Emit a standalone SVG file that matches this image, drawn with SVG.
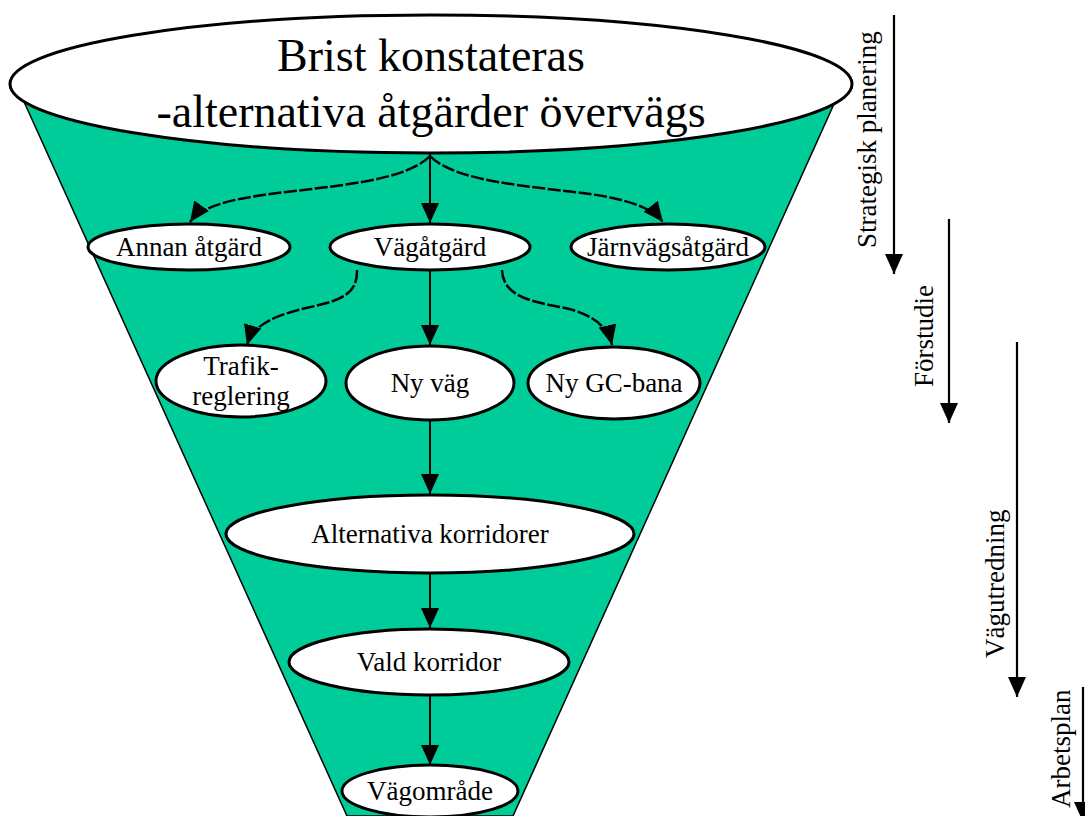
<svg xmlns="http://www.w3.org/2000/svg" width="1085" height="816" viewBox="0 0 1085 816">
  <style>
    .node { fill: #ffffff; stroke: #000000; stroke-width: 3; }
    .lbl { font-family: "Liberation Serif", "Times New Roman", serif; font-size: 27px; fill: #000000; text-anchor: middle; }
    .big { font-family: "Liberation Serif", "Times New Roman", serif; font-size: 46px; fill: #000000; text-anchor: middle; }
    .side { font-family: "Liberation Serif", "Times New Roman", serif; font-size: 27px; fill: #000000; }
    .edge { fill: none; stroke: #000000; stroke-width: 2; marker-end: url(#arrow); }
    .dash { stroke-width: 2.5; stroke-dasharray: 13 2.5; }
    .phase { fill: none; stroke: #000000; stroke-width: 2.2; marker-end: url(#arrow); }
  </style>
  <defs>
    <marker id="arrow" viewBox="0 0 20 18" refX="20" refY="9" markerWidth="20" markerHeight="18" markerUnits="userSpaceOnUse" orient="auto">
      <path d="M0,0 L20,9 L0,18 Z" fill="#000000"/>
    </marker>
  </defs>

  <rect width="1085" height="816" fill="#ffffff"/>

  <!-- funnel body -->
  <polygon id="funnel" points="16,84 843,84 513,816 347,816" fill="#00cc99" stroke="#000000" stroke-width="1.5"/>

  <!-- connectors -->
  <g id="connectors">
    <line class="edge" x1="430" y1="154" x2="430" y2="223"/>
    <path class="edge dash" d="M430,156 C405,182 330,186 270,194 C225,200 200,208 190,222"/>
    <path class="edge dash" d="M430,156 C455,182 530,186 590,194 C630,200 652,208 663,222"/>
    <line class="edge" x1="430" y1="270" x2="430" y2="345"/>
    <path class="edge dash" d="M357,270 C358,300 330,302 298,310 C268,318 252,328 247,345"/>
    <path class="edge dash" d="M502,270 C503,298 535,302 565,308 C595,315 608,328 612,345"/>
    <line class="edge" x1="430" y1="420" x2="430" y2="494"/>
    <line class="edge" x1="430" y1="573" x2="430" y2="628"/>
    <line class="edge" x1="430" y1="696" x2="430" y2="765"/>
  </g>

  <g id="brist">
    <ellipse class="node" cx="431" cy="84" rx="421" ry="69"/>
    <text class="big" x="431" y="71">Brist konstateras</text>
    <text class="big" x="431" y="127">-alternativa åtgärder övervägs</text>
  </g>

  <g id="annan">
    <ellipse class="node" cx="189" cy="247" rx="101" ry="23"/>
    <text class="lbl" x="189" y="256">Annan åtgärd</text>
  </g>
  <g id="vagatgard">
    <ellipse class="node" cx="430" cy="247" rx="100" ry="23"/>
    <text class="lbl" x="430" y="256">Vägåtgärd</text>
  </g>
  <g id="jarnvag">
    <ellipse class="node" cx="668" cy="247" rx="97" ry="23"/>
    <text class="lbl" x="668" y="256">Järnvägsåtgärd</text>
  </g>

  <g id="trafik">
    <ellipse class="node" cx="241" cy="381" rx="85" ry="36"/>
    <text class="lbl" x="241" y="375">Trafik-</text>
    <text class="lbl" x="241" y="405">reglering</text>
  </g>
  <g id="nyvag">
    <ellipse class="node" cx="430" cy="383" rx="84" ry="37"/>
    <text class="lbl" x="430" y="392">Ny väg</text>
  </g>
  <g id="gcbana">
    <ellipse class="node" cx="614" cy="383" rx="86" ry="36"/>
    <text class="lbl" x="614" y="392">Ny GC-bana</text>
  </g>

  <g id="korridorer">
    <ellipse class="node" cx="430" cy="534" rx="204" ry="39"/>
    <text class="lbl" x="430" y="543">Alternativa korridorer</text>
  </g>
  <g id="vald">
    <ellipse class="node" cx="429" cy="662" rx="140" ry="33"/>
    <text class="lbl" x="429" y="671">Vald korridor</text>
  </g>
  <g id="vagomrade">
    <ellipse class="node" cx="430" cy="791" rx="88" ry="26"/>
    <text class="lbl" x="430" y="800">Vägområde</text>
  </g>

  <!-- planning phases -->
  <g id="phases">
    <line class="phase" x1="894" y1="15" x2="894" y2="274"/>
    <text class="side" transform="translate(876,248) rotate(-90)">Strategisk planering</text>
    <line class="phase" x1="949" y1="219" x2="949" y2="423"/>
    <text class="side" transform="translate(933,387) rotate(-90)">Förstudie</text>
    <line class="phase" x1="1017" y1="342" x2="1017" y2="697"/>
    <text class="side" transform="translate(1004,658) rotate(-90)">Vägutredning</text>
    <line class="phase" x1="1083" y1="687" x2="1083" y2="822"/>
    <text class="side" transform="translate(1070,808) rotate(-90)">Arbetsplan</text>
  </g>
</svg>
